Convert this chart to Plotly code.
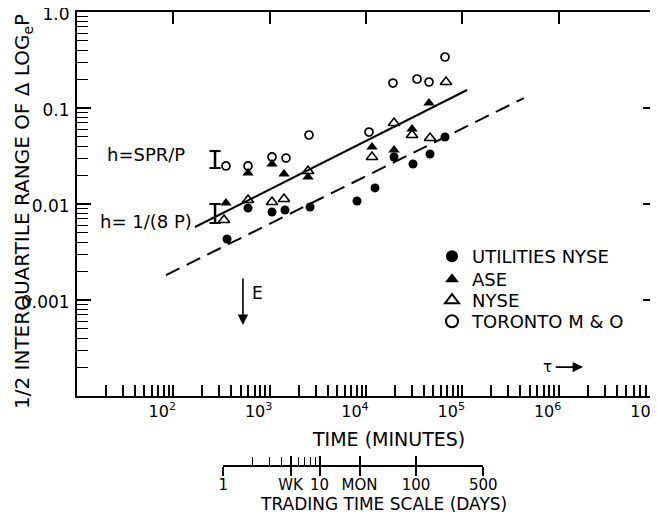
import numpy as np
import plotly.graph_objects as go

# ---------------- data ----------------
util_t = [361, 596, 1057, 1442, 2624, 8070, 12400, 19540, 30760, 46200, 66100]
util_v = [0.00432, 0.00908, 0.00825, 0.00866, 0.0093, 0.01075, 0.0147, 0.0309, 0.0261, 0.0332, 0.0499]

ase_t = [352, 596, 1057, 1409, 2500, 11540, 19540, 30060, 45100]
ase_v = [0.01024, 0.0210, 0.0261, 0.0205, 0.0191, 0.0392, 0.0365, 0.0604, 0.1128]

nyse_t = [336, 596, 1057, 1409, 2500, 11540, 19540, 30060, 46200, 67700]
nyse_v = [0.00681, 0.0110, 0.0105, 0.01127, 0.0221, 0.0309, 0.0698, 0.0523, 0.0487, 0.1866]

tor_t = [352, 596, 1057, 1479, 2560, 10740, 19050, 33880, 45100, 66100]
tor_v = [0.0249, 0.0249, 0.0309, 0.0301, 0.0523, 0.0562, 0.182, 0.2005, 0.1866, 0.340]

# theoretical h ranges (the "I" bars)
h_t = 271
h_spr = [0.0237, 0.0356]
h_8p = [0.00634, 0.0100]

# fitted lines (end points)
solid_t = [168, 112000]
solid_v = [0.00576, 0.154]
dash_t = [84, 436000]
dash_v = [0.00182, 0.127]

# markers E and tau
E_t = 528
E_v = [0.00174, 0.00055]
tau_t = [9.0e5, 1.79e6]
tau_v = 2.0e-4

# axes
x_decades = [10, 100, 1000, 1e4, 1e5, 1e6, 1e7]
x_ticktext = ["", "10<sup>2</sup>", "10<sup>3</sup>", "10<sup>4</sup>",
              "10<sup>5</sup>", "10<sup>6</sup>", "10<sup>7</sup>"]
y_decades = [1e-3, 1e-2, 1e-1, 1]
y_ticktext = ["0.001", "0.01", "0.1", "1.0"]

MIN_PER_DAY = 330
day_vals = [1, 5, 10, 26, 100, 500]
day_text = ["1", "WK", "10", "MON", "100", "500"]
day_minor = [2, 3, 4, 6, 7, 8, 9]

legend_names = ["UTILITIES NYSE", "ASE", "NYSE", "TORONTO M & O"]

FONT = "DejaVu Sans"
X_RANGE = [1, 7]
Y_RANGE = [-4, 0]

# ---------------- geometry (page has an 8px body margin) ----------------
OFF = 8
W, H = 658 - OFF, 523 - OFF
ML, MR, MT, MB = 77 - OFF, 3, 12 - OFF, 8
PW = W - ML - MR
PH = H - MT - MB


def py(pix):
    """reference-picture y pixel -> paper fraction"""
    return (H - MB - (pix - OFF)) / PH


def px(pix):
    """reference-picture x pixel -> paper fraction"""
    return (pix - OFF - ML) / PW


main_bottom = py(396)
d0 = (np.log10(day_vals[0] * MIN_PER_DAY) - X_RANGE[0]) / (X_RANGE[1] - X_RANGE[0])
d1 = (np.log10(day_vals[-1] * MIN_PER_DAY) - X_RANGE[0]) / (X_RANGE[1] - X_RANGE[0])

minor_x = [m * 10 ** k for k in range(1, 7) for m in range(2, 10)]
minor_y = [m * 10.0 ** k for k in range(-4, 0) for m in range(2, 10)]

# ---------------- figure ----------------
fig = go.Figure()

series = [
    (util_t, util_v, dict(symbol="circle", size=9, color="black")),
    (ase_t, ase_v, dict(symbol="triangle-up", size=10, color="black")),
    (nyse_t, nyse_v, dict(symbol="triangle-up-open", size=10, color="black", line=dict(width=1.6))),
    (tor_t, tor_v, dict(symbol="circle-open", size=8, color="black", line=dict(width=1.7))),
]
legend_ids = ["legend", "legend2", "legend3", "legend4"]
for (t, v, mk), nm, lid in zip(series, legend_names, legend_ids):
    fig.add_trace(go.Scatter(x=t, y=v, mode="markers", name=nm, marker=mk, legend=lid))

fig.add_trace(go.Scatter(x=solid_t, y=solid_v, mode="lines", showlegend=False,
                         line=dict(color="black", width=2)))
fig.add_trace(go.Scatter(x=dash_t, y=dash_v, mode="lines", showlegend=False,
                         line=dict(color="black", width=2, dash="15px,8px")))

for rng in (h_spr, h_8p):
    fig.add_trace(go.Scatter(x=[h_t, h_t], y=rng, mode="lines+markers", showlegend=False,
                             line=dict(color="black", width=2.5),
                             marker=dict(symbol="line-ew", size=8,
                                         line=dict(color="black", width=2))))

# empty traces so the secondary axes exist
fig.add_trace(go.Scatter(x=[], y=[], xaxis="x2", yaxis="y2", showlegend=False))
fig.add_trace(go.Scatter(x=[], y=[], xaxis="x3", yaxis="y", showlegend=False))
fig.add_trace(go.Scatter(x=[], y=[], xaxis="x", yaxis="y3", showlegend=False))
fig.add_trace(go.Scatter(x=[], y=[], xaxis="x4", yaxis="y2", showlegend=False))

legend_rows = [257, 280, 301, 322]
leg_layout = {}
for lid, row in zip(legend_ids, legend_rows):
    leg_layout[lid] = dict(x=px(432), y=py(row - 19), xanchor="left", yanchor="top",
                           bgcolor="rgba(0,0,0,0)", font=dict(size=18, family=FONT),
                           itemsizing="constant")

fig.update_layout(
    width=W, height=H,
    margin=dict(l=ML, r=MR, t=MT, b=MB, autoexpand=False),
    paper_bgcolor="white", plot_bgcolor="white",
    font=dict(family=FONT, size=17, color="black"),
    showlegend=True,
    **leg_layout,
    xaxis=dict(type="log", range=X_RANGE, domain=[0, 1], anchor="y",
               showline=True, linewidth=2, linecolor="black", mirror=True,
               showgrid=False, zeroline=False,
               tickmode="array", tickvals=x_decades, ticktext=x_ticktext,
               ticks="inside", ticklen=11, tickwidth=1.5, tickcolor="black",
               ticklabelshift=-11, ticklabelstandoff=0, ticklabeloverflow="allow",
               tickfont=dict(size=16, family=FONT),
               minor=dict(tickmode="array", tickvals=minor_x, ticks="inside",
                          ticklen=11, tickwidth=1.5, tickcolor="black", showgrid=False),
               automargin=False),
    yaxis=dict(type="log", range=Y_RANGE, domain=[main_bottom, 1], anchor="x",
               showline=True, linewidth=2, linecolor="black", mirror=True,
               showgrid=False, zeroline=False,
               tickmode="array", tickvals=y_decades, ticktext=y_ticktext,
               ticks="inside", ticklen=14, tickwidth=1.5, tickcolor="black",
               ticklabelstandoff=2, ticklabelshift=2, ticklabeloverflow="allow",
               tickfont=dict(size=17, family=FONT),
               minor=dict(tickmode="array", tickvals=minor_y, ticks="inside",
                          ticklen=11, tickwidth=1.2, tickcolor="black", showgrid=False),
               automargin=False),
    xaxis3=dict(type="log", range=X_RANGE, overlaying="x", side="top", anchor="y",
                showline=False, showgrid=False, zeroline=False,
                tickmode="array", tickvals=x_decades[1:-1], ticks="inside",
                ticklen=12, tickwidth=1.5, tickcolor="black", showticklabels=False,
                automargin=False),
    yaxis3=dict(type="log", range=Y_RANGE, overlaying="y", side="right", anchor="x",
                showline=False, showgrid=False, zeroline=False,
                tickmode="array", tickvals=y_decades[:-1], ticks="inside",
                ticklen=12, tickwidth=1.5, tickcolor="black", showticklabels=False,
                automargin=False),
    xaxis2=dict(type="log", range=[np.log10(day_vals[0]), np.log10(day_vals[-1])],
                domain=[d0, d1], anchor="y2",
                showline=True, linewidth=1.5, linecolor="black",
                showgrid=False, zeroline=False,
                tickmode="array", tickvals=day_vals, ticktext=day_text,
                ticks="outside", ticklen=9, tickwidth=1.5, tickcolor="black",
                ticklabelstandoff=-4,
                tickfont=dict(size=15, family=FONT),
                minor=dict(tickmode="array", tickvals=day_minor, ticks="inside",
                           ticklen=8, tickwidth=1.3, tickcolor="black", showgrid=False),
                automargin=False),
    xaxis4=dict(type="log", range=[np.log10(day_vals[0]), np.log10(day_vals[-1])],
                domain=[d0, d1], anchor="y2", overlaying="x2",
                showline=False, showgrid=False, zeroline=False,
                tickmode="array", tickvals=day_vals, ticks="inside", ticklen=9,
                tickwidth=1.5, tickcolor="black", showticklabels=False,
                automargin=False),
    yaxis2=dict(domain=[py(465), py(455)], anchor="x2", visible=False, range=[0, 1],
                automargin=False),
)


def txt(text, x, y, size, xref="paper", yref="paper", **kw):
    return dict(text=text, xref=xref, yref=yref, x=x, y=y, showarrow=False,
                xanchor="center", yanchor="middle", font=dict(size=size, family=FONT), **kw)


annotations = [
    txt("TIME (MINUTES)", px(388), py(439), 19),
    txt("TRADING TIME SCALE (DAYS)", px(383), py(504), 17),
    txt("1/2 INTERQUARTILE RANGE OF \u0394 LOG<sub>e</sub>P", px(23), py(212), 20, textangle=-90),
    txt("h=SPR/P", np.log10(52), np.log10(0.0324), 18, xref="x", yref="y"),
    txt("h= 1/(8 P)", np.log10(52), np.log10(0.0065), 18, xref="x", yref="y"),
    dict(text="", xref="x", yref="y", axref="x", ayref="y",
         x=np.log10(E_t), y=np.log10(E_v[1]), ax=np.log10(E_t), ay=np.log10(E_v[0]),
         showarrow=True, arrowhead=2, arrowsize=1.3, arrowwidth=1.6, arrowcolor="black"),
    txt("E", np.log10(E_t) + 0.15, np.log10(E_v[0]) - 0.17, 17, xref="x", yref="y"),
    dict(text="", xref="x", yref="y", axref="x", ayref="y",
         x=np.log10(tau_t[1]), y=np.log10(tau_v), ax=np.log10(tau_t[0]), ay=np.log10(tau_v),
         showarrow=True, arrowhead=2, arrowsize=1.3, arrowwidth=1.6, arrowcolor="black"),
    txt("\u03c4", np.log10(tau_t[0]) - 0.07, np.log10(tau_v), 15, xref="x", yref="y"),
]
fig.update_layout(annotations=annotations)

fig.write_html("out.html")
